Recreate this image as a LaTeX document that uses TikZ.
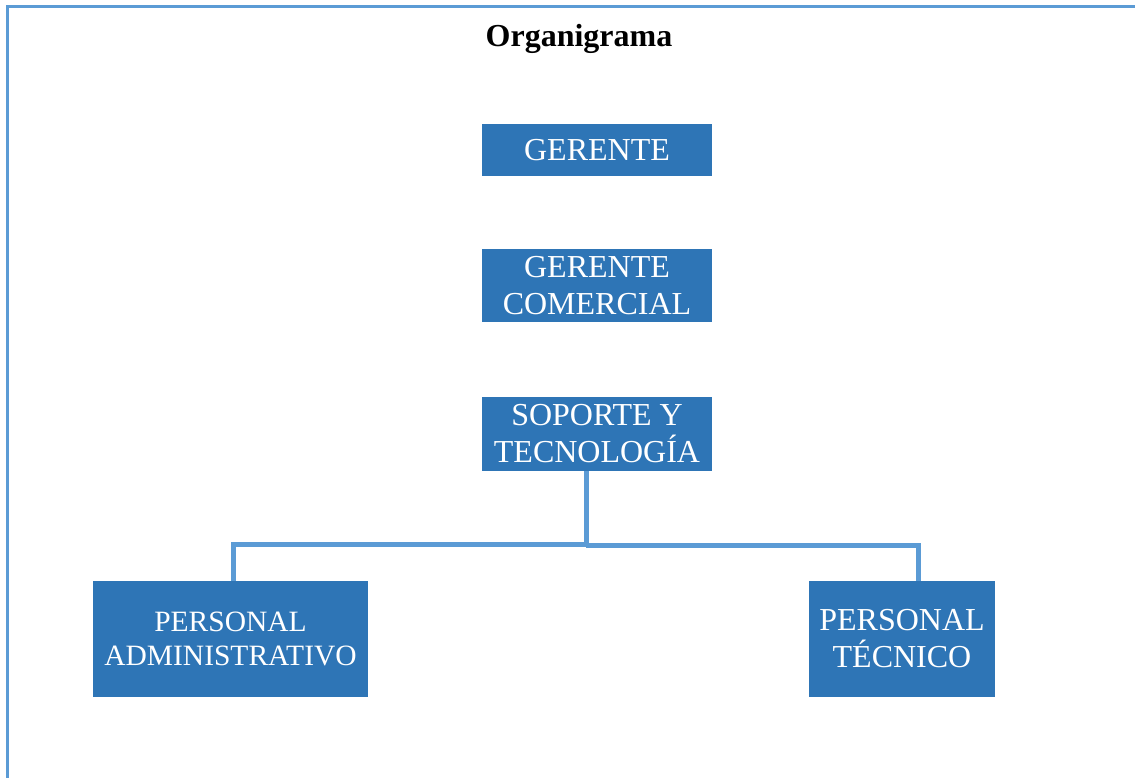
\documentclass[tikz,border=0pt]{standalone}
\usepackage{fontspec}
\setmainfont{Liberation Serif}
\definecolor{boxblue}{HTML}{2E75B6}
\definecolor{lineblue}{HTML}{5B9BD5}
\begin{document}
\begin{tikzpicture}[x=1pt,y=-1pt,
  unit/.style={fill=boxblue,text=white,inner sep=0pt,align=center,
    font=\fontsize{32}{37}\selectfont},
  link/.style={draw=lineblue,line width=5pt}]
\useasboundingbox (0,0) rectangle (1135,778);
% page frame (top and left rules)
\draw[lineblue,line width=3pt] (7,778) -- (7,7) -- (1135,7);
% title
\node[font=\fontsize{32}{37}\selectfont\bfseries,anchor=base] (title) at (579,47) {Organigrama};
% boxes
\node[unit,minimum width=230pt,minimum height=52pt] (ger) at (597,150) {GERENTE};
\node[unit,minimum width=230pt,minimum height=73pt] (com) at (597,285.5) {GERENTE\\COMERCIAL};
\node[unit,minimum width=230pt,minimum height=74pt] (sop) at (597,434) {SOPORTE Y\\TECNOLOGÍA};
\node[unit,minimum width=275pt,minimum height=116pt,
  font=\fontsize{29.5}{34}\selectfont] (adm) at (230.5,639) {PERSONAL\\ADMINISTRATIVO};
\node[unit,minimum width=186pt,minimum height=116pt] (tec) at (902,639) {PERSONAL\\TÉCNICO};
% connectors
\coordinate (fork) at (586,544);
\draw[link] ([xshift=-11pt]sop.south) -- ([yshift=-2pt]fork);
\draw[link] ([xshift=3pt]fork) -| ([xshift=2.5pt]adm.north);
\draw[link] ([yshift=-1.5pt]fork) -| ([xshift=16pt]tec.north);
\end{tikzpicture}
\end{document}
